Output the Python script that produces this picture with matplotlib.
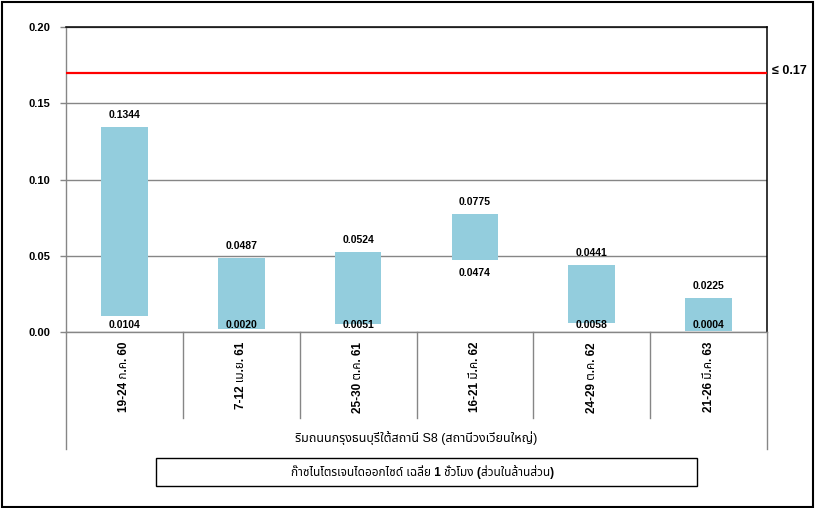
import matplotlib
matplotlib.use('Agg')
import matplotlib.pyplot as plt
from matplotlib import font_manager
from matplotlib.ft2font import FT2Font
from matplotlib.patches import Rectangle
from matplotlib.lines import Line2D
from matplotlib.ticker import FormatStrFormatter
import matplotlib.transforms as mtransforms

# data
categories = ["19-24 ก.ค. 60", "7-12 เม.ย. 61", "25-30 ต.ค. 61",
              "16-21 มี.ค. 62", "24-29 ต.ค. 62", "21-26 มี.ค. 63"]
high = [0.1344, 0.0487, 0.0524, 0.0775, 0.0441, 0.0225]
low = [0.0104, 0.0020, 0.0051, 0.0474, 0.0058, 0.0004]
limit = 0.17
limit_label = "≤ 0.17"
group_label = "ริมถนนกรุงธนบุรีใต้สถานี S8 (สถานีวงเวียนใหญ่)"
box_title = "ก๊าซไนโตรเจนไดออกไซด์ เฉลี่ย 1 ชั่วโมง (ส่วนในล้านส่วน)"
yticks = [0.00, 0.05, 0.10, 0.15, 0.20]


def find_thai_font():
    names = []
    for f in font_manager.fontManager.ttflist:
        try:
            if 0x0E01 in FT2Font(f.fname).get_charmap():
                names.append(f.name)
        except Exception:
            pass
    for pref in ['Noto Sans Thai', 'Tahoma', 'Loma', 'Garuda', 'Norasi']:
        if pref in names:
            return pref
    return names[0] if names else 'DejaVu Sans'


thai = find_thai_font()
base = 'Liberation Sans'
plt.rcParams['font.family'] = [base, thai, 'DejaVu Sans']

W, H = 815, 508
fig = plt.figure(figsize=(W / 100, H / 100), dpi=100)

# plot area in pixels: left 66, right 767, top 27, bottom 332
L, R, T, B = 66, 767, 27, 332
ax = fig.add_axes([L / W, 1 - B / H, (R - L) / W, (B - T) / H])

gray = '#868686'
x = [i + 0.5 for i in range(len(categories))]
heights = [h - l for h, l in zip(high, low)]
ax.bar(x, heights, bottom=low, width=0.4, color='#93CDDD', zorder=3)

ax.axhline(limit, color='#FF0000', lw=1.6, zorder=4)

for xi, h, l in zip(x, high, low):
    ax.annotate(f"{h:.4f}", (xi, h), xytext=(0, 8.5), textcoords='offset points',
                ha='center', va='center', fontsize=7.5, fontweight='bold',
                zorder=5)
    ax.annotate(f"{l:.4f}", (xi, max(l - 0.0085, 0.0045)),
                ha='center', va='center', fontsize=7.5, fontweight='bold',
                zorder=5)

ax.set_xlim(0, len(categories))
ax.set_ylim(0, 0.2)
ax.set_yticks(yticks)
ax.yaxis.set_major_formatter(FormatStrFormatter('%.2f'))
ax.tick_params(axis='y', length=4.3, width=1, color=gray, pad=7, labelsize=8)
for lab in ax.get_yticklabels():
    lab.set_fontweight('bold')
ax.set_xticks([])
ax.grid(axis='y', color=gray, lw=1, zorder=1)

for s in ['left', 'bottom']:
    ax.spines[s].set_color(gray)
    ax.spines[s].set_linewidth(1)
for s in ['top', 'right']:
    ax.spines[s].set_color('black')
    ax.spines[s].set_linewidth(1.1)

# category axis: separators and labels below the plot
trans = mtransforms.blended_transform_factory(ax.transData, fig.transFigure)
for i in range(1, len(categories)):
    fig.add_artist(Line2D([i, i], [1 - B / H, 1 - 418 / H], transform=trans,
                          color=gray, lw=1))
for i in [0, len(categories)]:
    fig.add_artist(Line2D([i, i], [1 - B / H, 1 - 449 / H], transform=trans,
                          color=gray, lw=1))
for xi, c in zip(x, categories):
    fig.text(xi, 1 - 342 / H, c, transform=trans, rotation=90,
             ha='center', va='top', fontsize=8.5, fontweight='bold')

fig.text((L + R) / 2 / W, 1 - 438 / H, group_label, ha='center', va='center',
         fontsize=9)

# limit label on the right
fig.text(772 / W, 1 - 71 / H, limit_label, ha='left', va='center',
         fontsize=9, fontweight='bold')

# boxed title at the bottom
fig.add_artist(Rectangle((156 / W, 1 - 486 / H), (697 - 156) / W, 28 / H,
                         transform=fig.transFigure, fill=False,
                         edgecolor='black', lw=1))
fig.text(423 / W, 1 - 472 / H, box_title, ha='center',
         va='center', fontsize=8.5, fontweight='bold')

# outer frame
fig.add_artist(Rectangle((1.5 / W, 1.5 / H), (W - 4) / W, (H - 3.5) / H,
                         transform=fig.transFigure, fill=False,
                         edgecolor='black', lw=1.5))

fig.savefig('out.png', dpi=100)
